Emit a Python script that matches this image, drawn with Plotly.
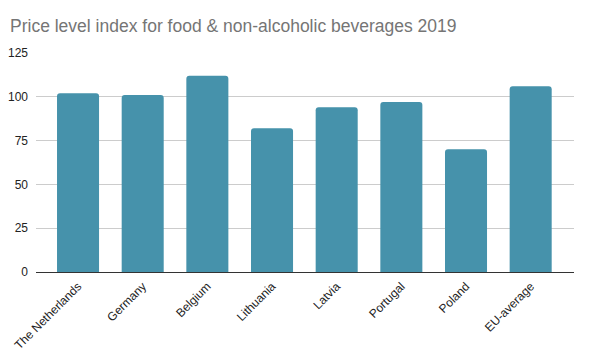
import plotly.graph_objects as go

categories = ["The Netherlands", "Germany", "Belgium", "Lithuania", "Latvia",
              "Portugal", "Poland", "EU-average"]
values = [102, 101, 112, 82, 94, 97, 70, 106]
y_ticks = [0, 25, 50, 75, 100, 125]

fig = go.Figure(go.Bar(
    x=categories, y=values,
    marker=dict(color="#4692ab", cornerradius=3, line=dict(width=0)),
    hoverinfo="x+y",
))

# page body has an 8px default margin, so the figure is sized to fit the window
fig.update_layout(
    width=588, height=348,
    margin=dict(l=28, r=22, t=45, b=84),
    paper_bgcolor="white", plot_bgcolor="white",
    bargap=0.35,
    showlegend=False,
    font=dict(family="Liberation Sans, Arial, sans-serif", size=12, color="#222222"),
    title=dict(
        text="Price level index for food & non-alcoholic beverages 2019",
        x=0.0, xanchor="left", xref="container", y=0.93, yanchor="bottom",
        pad=dict(l=2),
        font=dict(family="Liberation Sans, Arial, sans-serif", size=17.5, color="#757575"),
    ),
)
fig.update_xaxes(
    range=[-0.65, 7.67], tickangle=-45, showgrid=False, automargin=False,
    showline=False, ticks="", ticklabelstandoff=4,
    tickfont=dict(size=12, color="#222222"),
)
fig.update_yaxes(
    range=[0, 125], tickvals=y_ticks, showgrid=True, gridcolor="#cccccc",
    gridwidth=1, zeroline=True, zerolinecolor="#333333", zerolinewidth=1.3,
    automargin=False,
    ticks="", ticklabelstandoff=7, tickfont=dict(size=12, color="#222222"),
)

fig.write_html("out.html")
